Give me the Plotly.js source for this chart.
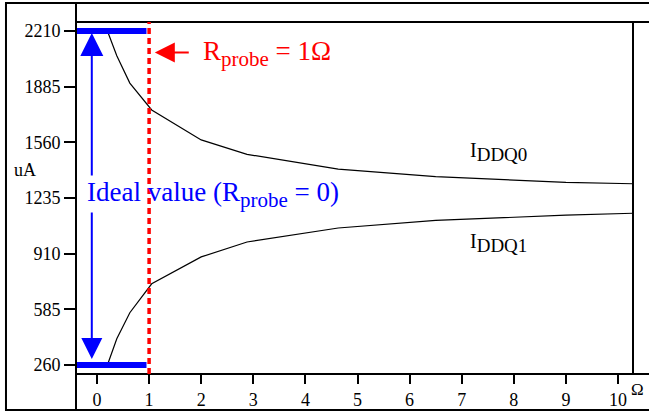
<!DOCTYPE html>
<html><head><meta charset="utf-8">
<script src="https://cdn.plot.ly/plotly-3.0.1.min.js"></script>
<style>html,body{margin:0;padding:0;background:#fff}</style>
</head><body>
<div id="chart" style="width:649px;height:415px"></div>
<script>
// Data
const rProbe = [0.2, 0.38, 0.63, 1.05, 2.0, 2.88, 4.63, 6.5, 9.0, 10.3];
const iddq0 = [2210, 2065, 1906, 1749, 1574, 1490, 1404, 1360, 1326, 1318];
const iddq1 = [260, 413, 565, 734, 891, 978, 1060, 1104, 1135, 1146];
const idealX = [-0.403, 0.95];
const idealHigh = [2210, 2210];
const idealLow = [260, 260];
const probeLine = 1;
const yTicks = [260, 585, 910, 1235, 1560, 1885, 2210];
const xTicks = [0, 1, 2, 3, 4, 5, 6, 7, 8, 9, 10];

const serif = 'Liberation Serif';
const blue = '#0000ff', red = '#ff0000';

const traces = [
  {x: rProbe, y: iddq0, mode: 'lines', line: {color: '#000', width: 1.2}, name: 'IDDQ0'},
  {x: rProbe, y: iddq1, mode: 'lines', line: {color: '#000', width: 1.2}, name: 'IDDQ1'},
  {x: idealX, y: idealHigh, mode: 'lines', line: {color: blue, width: 6}, name: 'ideal high'},
  {x: idealX, y: idealLow, mode: 'lines', line: {color: blue, width: 6}, name: 'ideal low'}
];

const frame = {type: 'line', xref: 'paper', yref: 'paper', line: {color: '#000', width: 2}};
const shapes = [
  Object.assign({}, frame, {type: 'rect', x0: -0.1257, x1: 1.035, y0: -0.1023, y1: 1.054}),
  Object.assign({}, frame, {x0: 0, x1: 0, y0: -0.1023, y1: 1.054}),
  Object.assign({}, frame, {x0: 0, x1: 1.035, y0: 1, y1: 1}),
  Object.assign({}, frame, {x0: 0, x1: 1.035, y0: 0, y1: 0}),
  Object.assign({}, frame, {x0: 1, x1: 1, y0: 0, y1: 1}),
  {type: 'line', xref: 'x', yref: 'paper', x0: probeLine, x1: probeLine, y0: 0, y1: 1,
   line: {color: red, width: 3.5, dash: '6px,4px'}}
];

const annotations = [
  {xref: 'paper', yref: 'paper', x: -0.068, y: 0.5795, xanchor: 'right', yanchor: 'middle',
   text: 'uA', showarrow: false, font: {family: serif, size: 18, color: '#000'}},
  {xref: 'paper', yref: 'paper', x: 0.993, y: -0.043, xanchor: 'left', yanchor: 'middle',
   text: 'Ω', showarrow: false, font: {family: serif, size: 17, color: '#000'}},
  // red arrow
  {x: 1.11, y: 2085, ax: 1.79, ay: 2085, axref: 'x', ayref: 'y', text: '', showarrow: true,
   arrowhead: 2, arrowsize: 2, arrowwidth: 2, arrowcolor: red, standoff: 0},
  {x: 2.0, y: 2080, xanchor: 'left', yanchor: 'middle', showarrow: false,
   text: 'R<sub><span style="font-size:21px">probe</span></sub> = 1Ω',
   font: {family: serif, size: 27, color: red}},
  // blue double arrow (two halves around the text)
  {x: -0.1, y: 2210, ax: -0.1, ay: 1358, axref: 'x', ayref: 'y', text: '', showarrow: true,
   arrowhead: 2, arrowsize: 2.3, arrowwidth: 2, arrowcolor: blue, standoff: 2},
  {x: -0.1, y: 260, ax: -0.1, ay: 1159, axref: 'x', ayref: 'y', text: '', showarrow: true,
   arrowhead: 2, arrowsize: 2.1, arrowwidth: 2, arrowcolor: blue, standoff: 6},
  {x: -0.23, y: 1255, xanchor: 'left', yanchor: 'middle', showarrow: false,
   text: 'Ideal value (R<sub><span style="font-size:21px">probe</span></sub> = 0)',
   font: {family: serif, size: 27, color: blue}},
  {x: 7.12, y: 1505, xanchor: 'left', yanchor: 'middle', showarrow: false,
   text: 'I<sub><span style="font-size:19px">DDQ0</span></sub>',
   font: {family: serif, size: 20, color: '#000'}},
  {x: 7.12, y: 975, xanchor: 'left', yanchor: 'middle', showarrow: false,
   text: 'I<sub><span style="font-size:19px">DDQ1</span></sub>',
   font: {family: serif, size: 20, color: '#000'}}
];

const layout = {
  width: 649, height: 415,
  margin: {l: 76, r: 16, t: 22, b: 41, pad: 0},
  paper_bgcolor: '#fff', plot_bgcolor: '#fff',
  showlegend: false,
  font: {family: serif, size: 18, color: '#000'},
  xaxis: {range: [-0.403, 10.288], tickmode: 'array', tickvals: xTicks, ticktext: xTicks.map(String),
    ticks: 'outside', ticklen: 9, tickwidth: 2, tickcolor: '#000', showgrid: false, zeroline: false,
    showline: false, tickfont: {family: serif, size: 18, color: '#000'}},
  yaxis: {range: [207.5, 2262.5], tickmode: 'array', tickvals: yTicks, ticktext: yTicks.map(String),
    ticks: 'outside', ticklen: 11, tickwidth: 2, tickcolor: '#000', showgrid: false, zeroline: false,
    showline: false, tickfont: {family: serif, size: 18, color: '#000'}},
  shapes: shapes,
  annotations: annotations
};

Plotly.newPlot('chart', traces, layout, {displayModeBar: false, staticPlot: true});
</script></body></html>
